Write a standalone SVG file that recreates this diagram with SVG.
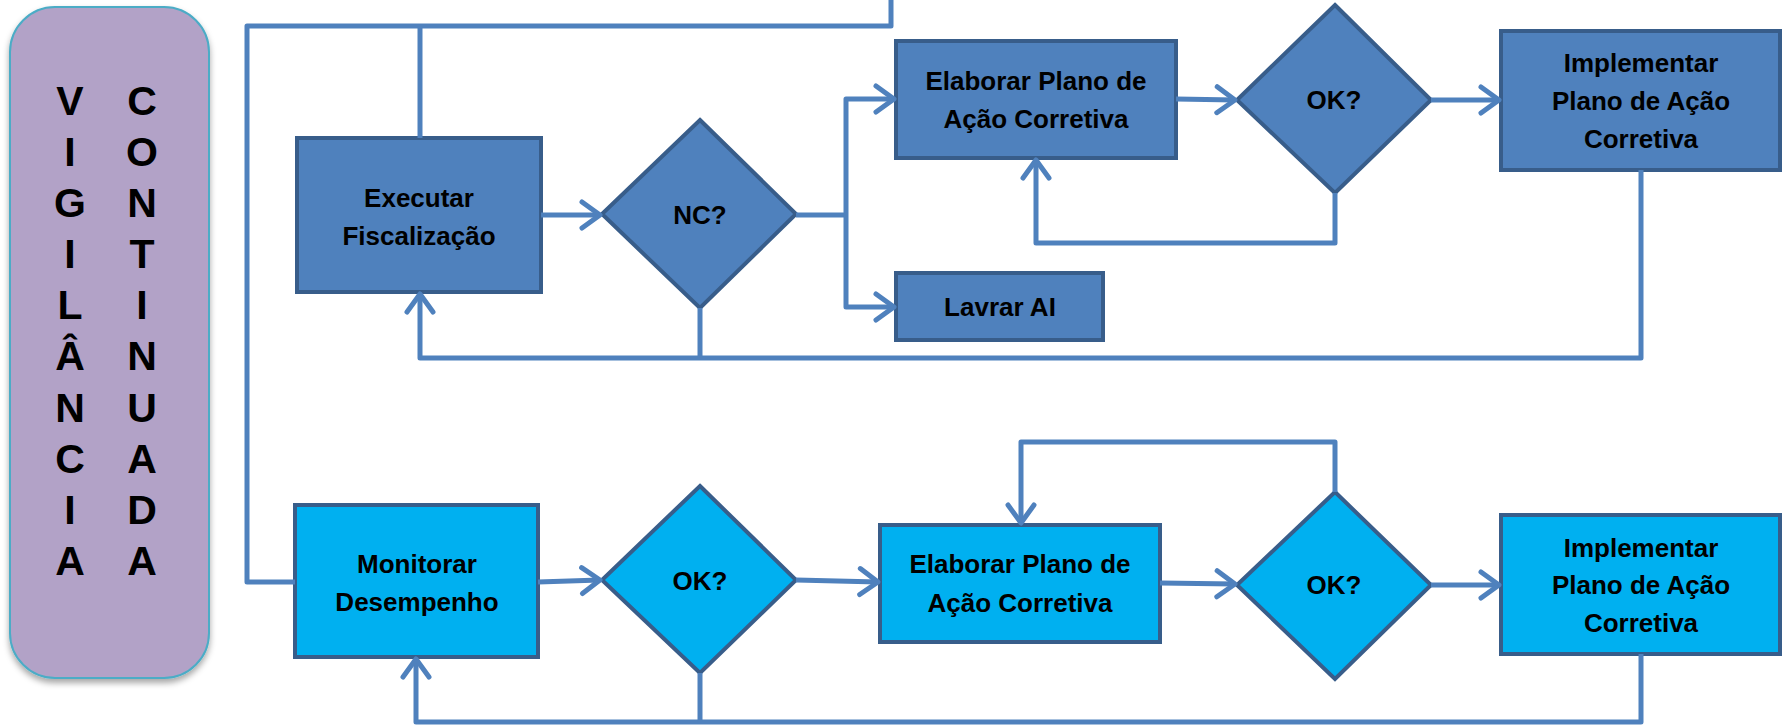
<svg xmlns="http://www.w3.org/2000/svg" width="1787" height="725" viewBox="0 0 1787 725">
<style>
.n1{fill:#4F81BD;stroke:#385D8A;stroke-width:4}
.n2{fill:#00B0F0;stroke:#385D8A;stroke-width:4}
.t{font-family:"Liberation Sans",Arial,sans-serif;font-weight:bold;font-size:26px;fill:#000;text-anchor:middle}
.v{font-family:"Liberation Sans",Arial,sans-serif;font-weight:bold;font-size:41px;fill:#000;text-anchor:middle}
.c{fill:none;stroke:#4F81BD;stroke-width:5;stroke-linejoin:round}
.a{marker-end:url(#arr)}
</style>
<defs>
<marker id="arr" markerUnits="userSpaceOnUse" markerWidth="40" markerHeight="40" refX="0" refY="0" orient="auto" overflow="visible">
<path d="M-18,-13 L0,0 L-18,13" fill="none" stroke="#4F81BD" stroke-width="5" stroke-linecap="round" stroke-linejoin="round"/>
</marker>
<filter id="sh" x="-10%" y="-10%" width="130%" height="130%">
<feDropShadow dx="0" dy="4" stdDeviation="3" flood-color="#000" flood-opacity="0.35"/>
</filter>
</defs>
<rect width="1787" height="725" fill="#fff"/>

<g id="vigilancia">
<rect x="10" y="7" width="199" height="671" rx="45" ry="45" fill="#B2A2C7" stroke="#4BACC6" stroke-width="2" filter="url(#sh)"/>
<text class="v" x="70" y="115">V</text>
<text class="v" x="70" y="166">I</text>
<text class="v" x="70" y="217">G</text>
<text class="v" x="70" y="268">I</text>
<text class="v" x="70" y="319">L</text>
<text class="v" x="70" y="370">Â</text>
<text class="v" x="70" y="422">N</text>
<text class="v" x="70" y="473">C</text>
<text class="v" x="70" y="524">I</text>
<text class="v" x="70" y="575">A</text>
<text class="v" x="142" y="115">C</text>
<text class="v" x="142" y="166">O</text>
<text class="v" x="142" y="217">N</text>
<text class="v" x="142" y="268">T</text>
<text class="v" x="142" y="319">I</text>
<text class="v" x="142" y="370">N</text>
<text class="v" x="142" y="422">U</text>
<text class="v" x="142" y="473">A</text>
<text class="v" x="142" y="524">D</text>
<text class="v" x="142" y="575">A</text>
</g>

<g id="executar">
<rect class="n1" x="297" y="138" width="244" height="154"/>
<text class="t" x="419" y="207">Executar</text>
<text class="t" x="419" y="245">Fiscalização</text>
</g>
<g id="nc">
<polygon class="n1" points="700,120 796,214 700,308 602,214"/>
<text class="t" x="700" y="224">NC?</text>
</g>
<g id="elaborar1">
<rect class="n1" x="896" y="41" width="280" height="117"/>
<text class="t" x="1036" y="90">Elaborar Plano de</text>
<text class="t" x="1036" y="128">Ação Corretiva</text>
</g>
<g id="lavrar">
<rect class="n1" x="896" y="273" width="207" height="67"/>
<text class="t" x="1000" y="316">Lavrar AI</text>
</g>
<g id="ok1">
<polygon class="n1" points="1335,5 1431,100 1335,193 1237,100"/>
<text class="t" x="1334" y="109">OK?</text>
</g>
<g id="implementar1">
<rect class="n1" x="1501" y="31" width="279" height="139"/>
<text class="t" x="1641" y="72">Implementar</text>
<text class="t" x="1641" y="110">Plano de Ação</text>
<text class="t" x="1641" y="148">Corretiva</text>
</g>

<g id="monitorar">
<rect class="n2" x="295" y="505" width="243" height="152"/>
<text class="t" x="417" y="573">Monitorar</text>
<text class="t" x="417" y="611">Desempenho</text>
</g>
<g id="ok2">
<polygon class="n2" points="700,486 796,580 700,673 602,580"/>
<text class="t" x="700" y="590">OK?</text>
</g>
<g id="elaborar2">
<rect class="n2" x="880" y="525" width="280" height="117"/>
<text class="t" x="1020" y="573">Elaborar Plano de</text>
<text class="t" x="1020" y="612">Ação Corretiva</text>
</g>
<g id="ok3">
<polygon class="n2" points="1335,492 1431,585 1335,679 1237,585"/>
<text class="t" x="1334" y="594">OK?</text>
</g>
<g id="implementar2">
<rect class="n2" x="1501" y="515" width="279" height="139"/>
<text class="t" x="1641" y="557">Implementar</text>
<text class="t" x="1641" y="594">Plano de Ação</text>
<text class="t" x="1641" y="632">Corretiva</text>
</g>

<g id="connectors">
<path class="c" d="M891,0 L891,26 L247,26 L247,582 L295,582"/>
<path class="c" d="M420,26 L420,138"/>
<path class="c a" d="M541,215 L600,215"/>
<path class="c" d="M796,215 L846,215"/>
<path class="c a" d="M846,215 L846,99 L894,99"/>
<path class="c a" d="M846,215 L846,307 L894,307"/>
<path class="c a" d="M1176,99 L1235,100"/>
<path class="c a" d="M1335,193 L1335,243 L1036,243 L1036,160"/>
<path class="c a" d="M1431,100 L1499,100"/>
<path class="c a" d="M1641,170 L1641,358 L420,358 L420,294"/>
<path class="c" d="M700,308 L700,358"/>
<path class="c a" d="M538,582 L600,580"/>
<path class="c a" d="M796,580 L878,582"/>
<path class="c a" d="M1160,583 L1235,584"/>
<path class="c a" d="M1335,492 L1335,442 L1021,442 L1021,523"/>
<path class="c a" d="M1431,585 L1499,585"/>
<path class="c a" d="M1641,654 L1641,722 L416,722 L416,659"/>
<path class="c" d="M700,673 L700,722"/>
</g>
</svg>
